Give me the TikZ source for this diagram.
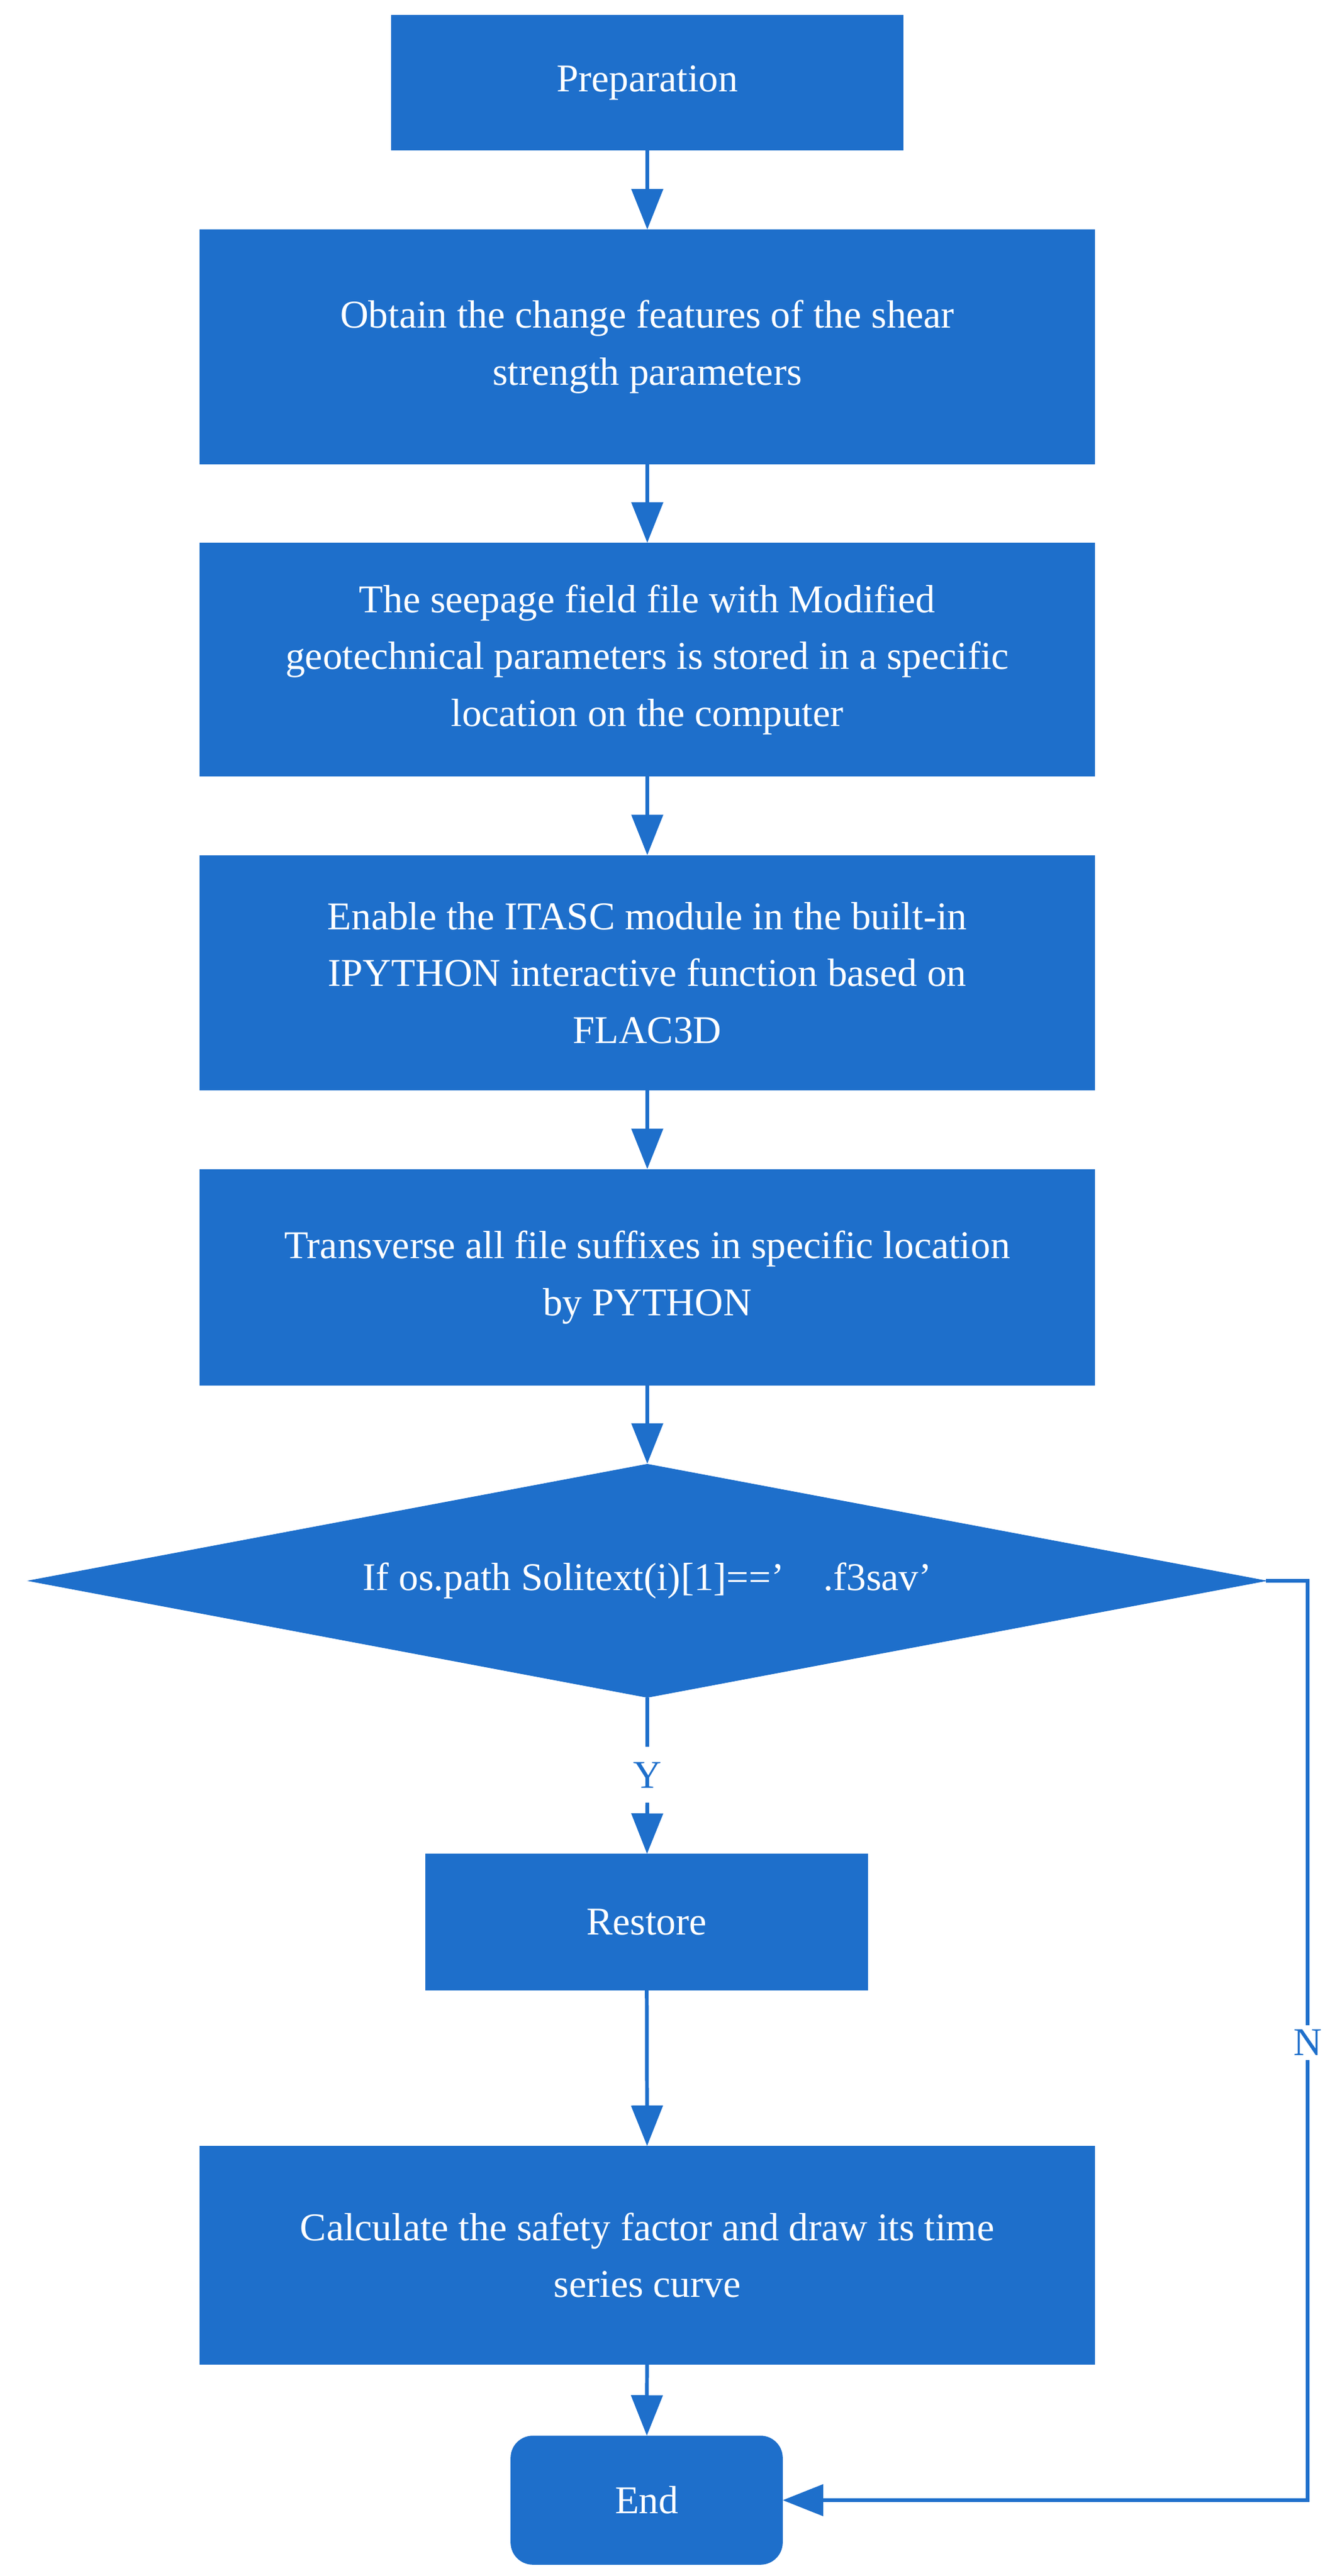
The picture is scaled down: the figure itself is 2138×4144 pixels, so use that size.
\documentclass[tikz,border=0pt]{standalone}
\usepackage{fontspec}
\setmainfont{Liberation Serif}
\usetikzlibrary{arrows.meta,shapes.geometric}
\definecolor{fb}{HTML}{1E6FCB}
\begin{document}
\begin{tikzpicture}[x=0.01cm,y=-0.01cm,
  box/.style={draw=fb,fill=fb,text=white,inner sep=0pt,align=center,font=\fontsize{18}{26}\selectfont},
  arr/.style={draw=fb,line width=1.7pt,-{Triangle[length=0.65cm,width=0.5cm]}},
  lab/.style={text=fb,font=\fontsize{18}{22}\selectfont}]
\useasboundingbox (0,0) rectangle (2138,4144);
\node[box,minimum width=8.22cm,minimum height=2.16cm] (p) at (1041,133) {Preparation};
\node[box,minimum width=14.38cm,minimum height=3.76cm] (b2) at (1041,558) {Obtain the change features of the shear\\strength parameters};
\node[box,minimum width=14.38cm,minimum height=3.74cm] (b3) at (1041,1061) {The seepage field file with Modified\\geotechnical parameters is stored in a specific\\location on the computer};
\node[box,minimum width=14.38cm,minimum height=3.77cm] (b4) at (1041,1565) {Enable the ITASC module in the built-in\\IPYTHON interactive function based on\\FLAC3D};
\node[box,minimum width=14.38cm,minimum height=3.47cm] (b5) at (1041,2055) {Transverse all file suffixes in specific location\\by PYTHON};
\node[box,diamond,minimum width=19.87cm,minimum height=3.75cm,aspect=5.3] (d) at (1041,2543) {};
\node[text=white,font=\fontsize{18}{22}\selectfont] at (1041,2543) {If os.path Solitext(i)[1]==’\quad.f3sav’};
\node[box,minimum width=7.1cm,minimum height=2.18cm] (r) at (1040,3092) {Restore};
\node[box,minimum width=14.38cm,minimum height=3.5cm] (c) at (1041,3628) {Calculate the safety factor and draw its time\\series curve};
\node[box,rounded corners=0.35cm,minimum width=4.36cm,minimum height=2.06cm] (e) at (1040,4022) {End};
\coordinate (nr) at (2103,2543);
\coordinate (nb) at (2103,4022);
\draw[arr] (p) -- (b2);
\draw[arr] (b2) -- (b3);
\draw[arr] (b3) -- (b4);
\draw[arr] (b4) -- (b5);
\draw[arr] (b5) -- (d.north);
\draw[draw=fb,line width=1.7pt] (d.south) -- (1041,2810);
\node[lab] (y) at (1041,2856) {Y};
\draw[arr] (1041,2900) -- (r);
\draw[arr] (r) -- (c);
\draw[arr] (c) -- (e);
\draw[arr] (d.east) -- (nr) -- (nb) -- (e.east);
\node[lab,fill=white,inner sep=2pt] (n) at (2103,3286) {N};
\end{tikzpicture}
\end{document}
